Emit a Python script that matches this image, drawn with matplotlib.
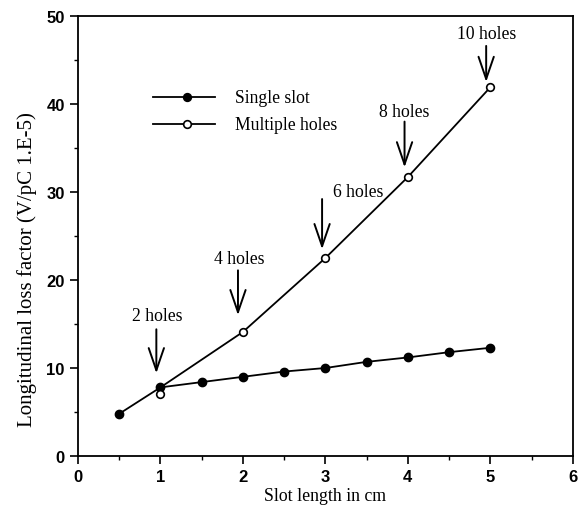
import matplotlib
matplotlib.use("Agg")
import matplotlib.pyplot as plt
from matplotlib.lines import Line2D

# Data
single_x = [0.5, 1.0, 1.5, 2.0, 2.5, 3.0, 3.5, 4.0, 4.5, 5.0]
single_y = [4.8, 7.8, 8.4, 9.0, 9.6, 10.0, 10.7, 11.2, 11.8, 12.3]
multi_x = [1, 2, 3, 4, 5]
multi_y = [7.1, 14.1, 22.5, 31.7, 41.9]
curve_x = [1.0, 2.0, 3.0, 4.0, 5.0]
curve_y = [7.8, 14.1, 22.5, 31.7, 41.9]

ann_labels = ["2 holes", "4 holes", "6 holes", "8 holes", "10 holes"]
ann_x = [0.95, 1.94, 2.96, 3.96, 4.95]
ann_text_x = [0.96, 1.95, 3.4, 3.96, 4.95]
ann_text_y = [16.0, 22.4, 30.1, 39.2, 48.0]
arrow_tail = [14.4, 21.1, 29.2, 38.0, 46.6]
arrow_tip = [9.4, 16.0, 23.5, 32.8, 42.5]

serif = ["Liberation Serif", "DejaVu Serif"]
sans = ["Liberation Sans", "DejaVu Sans"]

fig = plt.figure(figsize=(5.8, 5.06), dpi=100)
ax = fig.add_axes([0.1345, 0.0968, 0.853, 0.8696])

ax.plot(single_x, single_y, color="black", lw=1.3, marker="o", ms=6,
        mfc="black", mec="black", label="Single slot", zorder=3)
ax.plot(curve_x, curve_y, color="black", lw=1.3, zorder=2)
ax.plot(multi_x, multi_y, color="black", lw=0, marker="o", ms=5.5,
        mfc="white", mec="black", mew=1.2, zorder=4)

for lab, x, tx, ty, yt, yh in zip(ann_labels, ann_x, ann_text_x, ann_text_y, arrow_tail, arrow_tip):
    ax.text(tx, ty, lab, ha="center", va="center", fontsize=12.7, family=serif)
    ax.annotate("", xy=(x, yh), xytext=(x, yt),
                arrowprops=dict(arrowstyle="->,head_length=1.6,head_width=0.55",
                                color="black", lw=1.4, mutation_scale=10,
                                shrinkA=0, shrinkB=0))

# Legend drawn manually in axes fraction
leg_items = [("Single slot", "black"), ("Multiple holes", "white")]
leg_y = [0.815, 0.754]
for (lab, fc), yy in zip(leg_items, leg_y):
    ax.add_line(Line2D([0.152, 0.277], [yy, yy], transform=ax.transAxes, color="black", lw=1.3))
    ax.add_line(Line2D([0.22], [yy], transform=ax.transAxes, marker="o", ms=5.5,
                       mfc=fc, mec="black", mew=1.2, color="black"))
    ax.text(0.317, yy, lab, transform=ax.transAxes, va="center", ha="left",
            fontsize=12.7, family=serif)

ax.set_xlim(0, 6)
ax.set_ylim(0, 50)
ax.set_xticks([0, 1, 2, 3, 4, 5, 6])
ax.set_yticks([0, 10, 20, 30, 40, 50])
ax.set_xticks([0.5, 1.5, 2.5, 3.5, 4.5, 5.5], minor=True)
ax.set_yticks([5, 15, 25, 35, 45], minor=True)
ax.tick_params(which="major", direction="out", length=6, width=1.2, labelsize=12)
ax.tick_params(which="minor", direction="out", length=3, width=1.0)
for lbl in ax.get_xticklabels() + ax.get_yticklabels():
    lbl.set_family(sans)
    lbl.set_fontweight("bold")
for s in ax.spines.values():
    s.set_linewidth(1.3)

ax.set_xlabel("Slot length in cm", fontsize=12.8, family=serif, labelpad=2)
ax.set_ylabel("Longitudinal loss factor (V/pC 1.E-5)", fontsize=15, family=serif)
ax.yaxis.set_label_coords(-0.083, 0.425)

fig.savefig("out.png", dpi=100)
